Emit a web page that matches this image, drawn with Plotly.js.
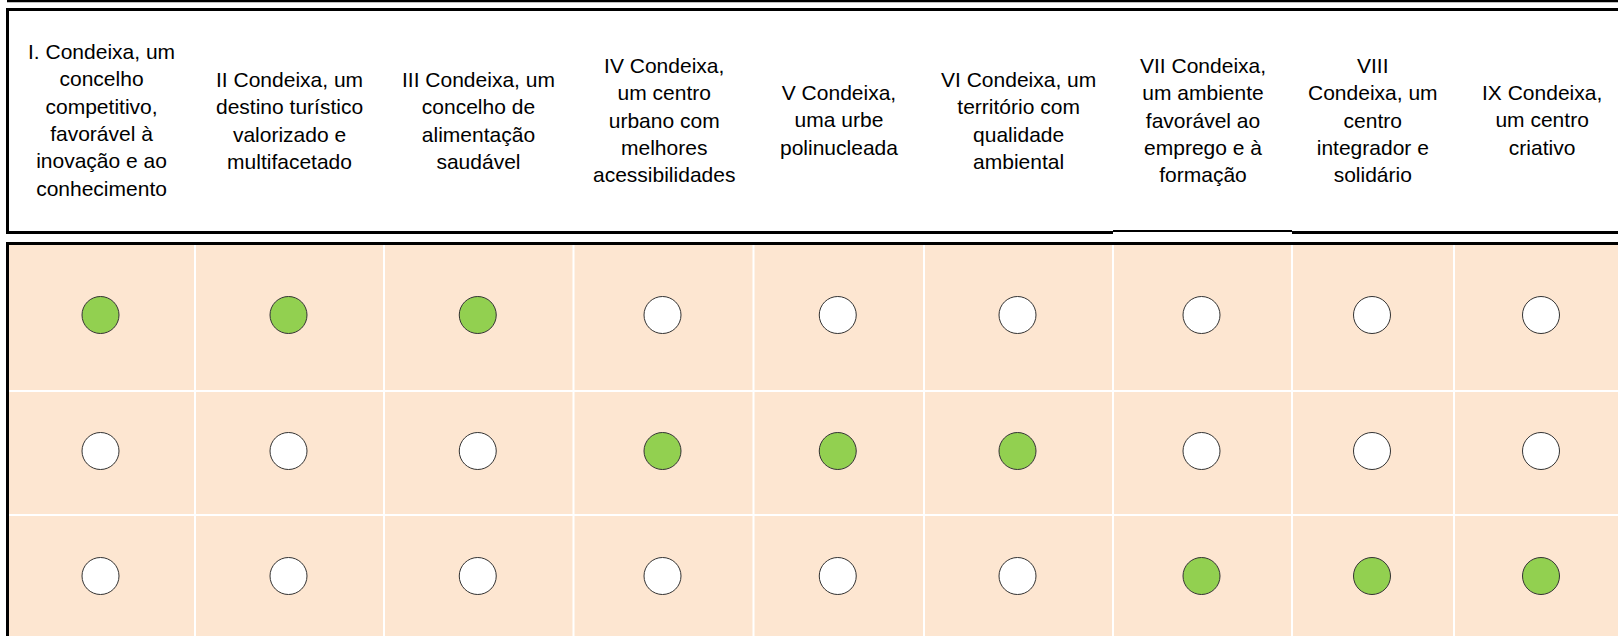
<!DOCTYPE html>
<html>
<head>
<meta charset="utf-8">
<script src="https://cdn.plot.ly/plotly-3.0.1.min.js"></script>
<style>html,body{margin:0;padding:0;background:#fff;overflow:hidden}</style>
</head>
<body>
<div id="chart" style="width:1618px;height:636px"></div>
<script>
// ---- data ----
const headers = [
  "I. Condeixa, um<br>concelho<br>competitivo,<br>favorável à<br>inovação e ao<br>conhecimento",
  "II Condeixa, um<br>destino turístico<br>valorizado e<br>multifacetado",
  "III Condeixa, um<br>concelho de<br>alimentação<br>saudável",
  "IV Condeixa,<br>um centro<br>urbano com<br>melhores<br>acessibilidades",
  "V Condeixa,<br>uma urbe<br>polinucleada",
  "VI Condeixa, um<br>território com<br>qualidade<br>ambiental",
  "VII Condeixa,<br>um ambiente<br>favorável ao<br>emprego e à<br>formação",
  "VIII<br>Condeixa, um<br>centro<br>integrador e<br>solidário",
  "IX Condeixa,<br>um centro<br>criativo"
];
const row1 = [1, 1, 1, 0, 0, 0, 0, 0, 0];
const row2 = [0, 0, 0, 1, 1, 1, 0, 0, 0];
const row3 = [0, 0, 0, 0, 0, 0, 1, 1, 1];
const rows = [row1, row2, row3];

// ---- layout constants (pixel-like axis units) ----
const colEdges = [8, 195, 384, 573.5, 753.5, 924, 1113, 1292, 1454, 1630];
const rowEdges = [244, 391, 515, 640];
const rowY = [315, 451, 576];
const headerY = 120;
const W = 1618, H = 636;
const onColor = '#92D050', offColor = '#FFFFFF';
const cellColor = '#FDE6D1';

const colX = headers.map((_, i) => (colEdges[i] + colEdges[i + 1]) / 2 - 1);

const traces = rows.map((r, ri) => ({
  type: 'scatter',
  mode: 'markers',
  x: colX,
  y: colX.map(() => rowY[ri]),
  marker: {
    size: 37,
    color: r.map(v => v ? onColor : offColor),
    line: {color: '#333333', width: 1}
  },
  hoverinfo: 'skip'
}));

const shapes = [];
// body background
shapes.push({type:'rect', xref:'x', yref:'y', x0:colEdges[0], x1:colEdges[colEdges.length-1], y0:rowEdges[0], y1:rowEdges[rowEdges.length-1], fillcolor:cellColor, line:{width:0}, layer:'below'});
// white separators
for (let i = 1; i < colEdges.length - 1; i++) {
  shapes.push({type:'line', xref:'x', yref:'y', x0:colEdges[i], x1:colEdges[i], y0:rowEdges[0], y1:rowEdges[rowEdges.length-1], line:{color:'#FFFFFF', width:2}, layer:'below'});
}
for (let j = 1; j < rowEdges.length - 1; j++) {
  shapes.push({type:'line', xref:'x', yref:'y', x0:colEdges[0], x1:colEdges[colEdges.length-1], y0:rowEdges[j], y1:rowEdges[j], line:{color:'#FFFFFF', width:2}, layer:'below'});
}
// black borders
const blk = (x0, y0, x1, y1, w) => shapes.push({type:'line', xref:'x', yref:'y', x0, y0, x1, y1, line:{color:'#000000', width:w}, layer:'below'});
blk(7, 1, W + 20, 1, 2.5);              // top strip line
blk(6, 9.5, W + 20, 9.5, 3);            // header top
blk(7.5, 8, 7.5, 234, 3);               // header left
blk(6, 232.5, colEdges[6], 232.5, 3);   // header bottom
blk(colEdges[6], 231, colEdges[7], 231, 2);
blk(colEdges[7], 232.5, W + 20, 232.5, 3);
blk(6, 243.5, W + 20, 243.5, 3);        // body top
blk(7.5, 242, 7.5, H + 20, 3);          // body left

const annotations = headers.map((t, i) => ({
  x: colX[i] + 1, y: headerY, xref: 'x', yref: 'y',
  text: t, showarrow: false, align: 'center',
  xanchor: 'center', yanchor: 'middle',
  font: {family: '"Liberation Sans", Arial, sans-serif', size: 21, color: '#000000'}
}));

const layout = {
  width: W, height: H,
  margin: {l: 0, r: 0, t: 0, b: 0, pad: 0},
  paper_bgcolor: '#FFFFFF', plot_bgcolor: '#FFFFFF',
  showlegend: false,
  xaxis: {range: [0, W], visible: false, fixedrange: true},
  yaxis: {range: [H, 0], visible: false, fixedrange: true},
  shapes, annotations
};

Plotly.newPlot('chart', traces, layout, {staticPlot: true, displayModeBar: false});
</script>
</body>
</html>
